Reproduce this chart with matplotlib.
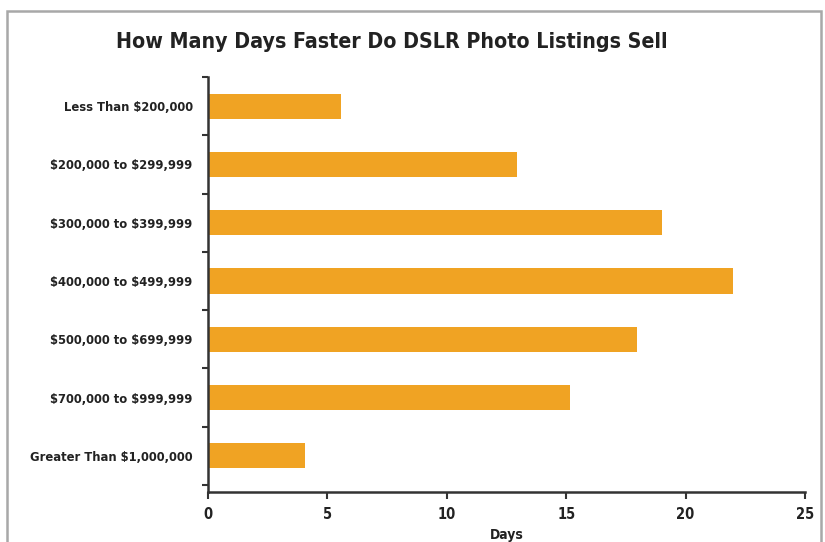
import matplotlib
matplotlib.use("Agg")
import matplotlib.pyplot as plt
from matplotlib.patches import Rectangle

categories = ["Less Than $200,000", "$200,000 to $299,999", "$300,000 to $399,999",
              "$400,000 to $499,999", "$500,000 to $699,999", "$700,000 to $999,999",
              "Greater Than $1,000,000"]
values = [5.55, 12.95, 19.0, 22.0, 17.95, 15.15, 4.05]
xticks = [0, 5, 10, 15, 20, 25]

plt.rcParams['font.family'] = ['DejaVu Sans']
plt.rcParams['font.stretch'] = 'condensed'
plt.rcParams['text.parse_math'] = False

fig = plt.figure(figsize=(8.25, 5.42), dpi=100)
ax = fig.add_axes([208/825, 1-492/542, (805-208)/825, (492-77)/542])

ypos = list(range(len(categories)))
ax.barh(ypos, values, height=0.43, color="#F0A323")
ax.set_ylim(6.62, -0.5)
ax.set_xlim(0, 25)
ax.set_xticks(xticks)
ax.set_xticklabels([str(t) for t in xticks], fontsize=10.5, fontweight="bold",
                   color="#222222", fontstretch="condensed")
ax.set_yticks(ypos)
ax.set_yticklabels(categories, fontsize=9.3, fontweight="bold", color="#222222",
                   fontstretch="condensed")
ax.tick_params(axis="y", length=0, pad=11)
ax.set_yticks([i - 0.5 for i in range(len(categories) + 1)], minor=True)
ax.tick_params(axis="y", which="minor", length=4, width=1.5, color="#333333", direction="out")
ax.tick_params(axis="x", length=5, width=1.5, color="#333333", direction="out", pad=6)
for s in ["top", "right"]:
    ax.spines[s].set_visible(False)
for s in ["left", "bottom"]:
    ax.spines[s].set_linewidth(1.8)
    ax.spines[s].set_color("#333333")
ax.set_xlabel("Days", fontsize=10, fontweight="bold", color="#222222", labelpad=4,
              fontstretch="condensed")

fig.text(392/825, 1-42/542, "How Many Days Faster Do DSLR Photo Listings Sell",
         ha="center", va="center", fontsize=15.3, fontweight="bold", color="#222222",
         fontstretch="condensed")

frame = Rectangle((7/825, -0.1), (821-7)/825, 1-11/542+0.1, transform=fig.transFigure,
                  fill=False, edgecolor="#a8a8a8", linewidth=1.8, clip_on=False)
fig.patches.append(frame)

fig.savefig("out.png", dpi=100)
